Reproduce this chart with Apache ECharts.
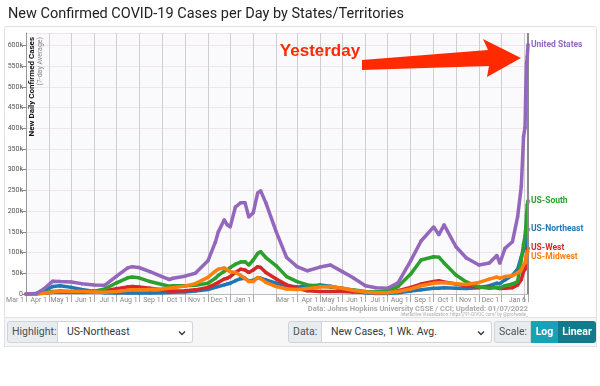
<!DOCTYPE html>
<html><head><meta charset="utf-8">
<script src="https://cdn.jsdelivr.net/npm/echarts@6/dist/echarts.min.js"></script>
<style>
html,body{margin:0;padding:0;background:#fff;width:600px;height:386px;overflow:hidden;font-family:Roboto,'Noto Sans',sans-serif;}
#card{position:absolute;left:4px;top:26px;width:593px;height:321px;border:1px solid #e2e2e2;border-radius:3px;box-sizing:border-box;z-index:0;}
#foot{position:absolute;left:4px;top:317px;width:593px;height:30px;background:#f6f6f6;border:1px solid #e2e2e2;box-sizing:border-box;z-index:0;}
#chart{position:absolute;left:0;top:0;width:600px;height:386px;z-index:1;}
.ctl{position:absolute;top:321px;height:22px;display:flex;font-size:10.5px;color:#495057;z-index:2;}
.lab{background:#e9ecef;border:1px solid #ced4da;padding:0 4px;line-height:20px;border-radius:3px 0 0 3px;box-sizing:border-box;height:22px;white-space:nowrap;}
.sel{background:#fff;border:1px solid #ced4da;border-left:none;line-height:20px;padding:0 9px;border-radius:0 3px 3px 0;position:relative;box-sizing:border-box;height:22px;color:#343a40;white-space:nowrap;}
.sel svg{position:absolute;right:6px;top:8px;}
.btn{line-height:22px;color:#fff;font-weight:bold;text-align:center;height:22px;}
</style></head>
<body>
<div id="card"></div><div id="foot"></div>
<div id="chart"></div>
<div class="ctl" style="left:7px;"><div class="lab" style="width:51px;">Highlight:</div><div class="sel" style="width:135px;">US-Northeast<svg width="8" height="6" viewBox="0 0 8 6"><path d="M1 1.5l3 3 3-3" stroke="#343a40" stroke-width="1.4" fill="none"/></svg></div></div>
<div class="ctl" style="left:288px;"><div class="lab" style="width:34px;">Data:</div><div class="sel" style="width:170px;">New Cases, 1 Wk. Avg.<svg width="8" height="6" viewBox="0 0 8 6"><path d="M1 1.5l3 3 3-3" stroke="#343a40" stroke-width="1.4" fill="none"/></svg></div></div>
<div class="ctl" style="left:494px;"><div class="lab" style="width:37px;">Scale:</div><div class="btn" style="width:27px;background:#17a2b8;">Log</div><div class="btn" style="width:38px;background:#117a8b;border-radius:0 3px 3px 0;">Linear</div></div>
<script>
// ---- data (values in thousands of cases, 7-day average) ----
const dates = ['2020-03-01','2020-03-15','2020-03-25','2020-04-06','2020-04-16','2020-05-01','2020-05-15','2020-06-01','2020-06-15','2020-07-01','2020-07-16','2020-07-22','2020-07-31','2020-08-15','2020-08-31','2020-09-10','2020-09-15','2020-10-01','2020-10-15','2020-11-01','2020-11-11','2020-11-15','2020-11-23','2020-11-27','2020-12-01','2020-12-08','2020-12-15','2020-12-21','2020-12-26','2021-01-01','2021-01-07','2021-01-11','2021-01-18','2021-02-01','2021-02-15','2021-03-01','2021-03-15','2021-04-01','2021-04-15','2021-05-01','2021-05-15','2021-06-01','2021-06-15','2021-07-01','2021-07-15','2021-08-01','2021-08-15','2021-09-01','2021-09-08','2021-09-15','2021-10-01','2021-10-15','2021-11-01','2021-11-15','2021-11-25','2021-11-29','2021-12-06','2021-12-16','2021-12-23','2021-12-28','2021-12-31','2022-01-02','2022-01-03','2022-01-04','2022-01-05','2022-01-06'];
const unitedStates = [0,1,12,31,30,29,25,22,21,43,63,66,64,54,42,35,38,43,50,80,125,150,179,167,162,210,220,220,186,196,244,249,220,150,88,66,56,65,70,54,40,20,15,14,27,80,128,162,143,167,114,87,70,75,93,74,110,126,186,260,380,402,491,556,573,602];
const usSouth = [0,0.5,3,6,7,6,6,7,12,27,39,41,39,30,23,19,20,20,21,26,38,45,55,58,64,72,77,78,70,82,98,102,88,68,42,30,22,19,17,14,10,6,5,8,18,48,82,90,89,75,46,29,17,14,16,15,20,24,30,82,120,140,160,190,215,225];
const usNortheast = [0,1,8,18,20,16,11,6,3,2.5,2.5,2.5,2.5,2.5,3,3.5,4,5,7,11,16,18,22,24,26,32,37,38,31,33,39,38,34,26,20,17,19,22,19,12,7,3,1.5,1.5,3,7,10,14,14,15,14,13,15,20,26,25,34,45,60,90,106,112,126,140,150,157];
const usWest = [0,0.5,2,4,4,4,4,5,8,13,17,18,17,14,10,7,7,8,10,16,24,28,36,38,42,52,60,58,52,58,66,64,52,36,22,14,8,6,6,6,5,4,3,4,8,16,24,30,32,29,24,20,16,16,15,13,14,15,22,35,55,60,77,90,102,111];
const usMidwest = [0,0.5,2,5,6,6,6,5,4,6,9,10,10,11,12,14,15,19,25,40,55,60,63,58,54,52,45,38,30,30,40,37,28,18,12,11,13,17,18,14,9,5,3,3,6,12,20,26,27,27,25,23,28,36,41,38,42,44,51,58,70,75,85,95,100,104];
const xGridDates = ['2020-03-01','2020-04-01','2020-05-01','2020-06-01','2020-07-01','2020-08-01','2020-09-01','2020-10-01','2020-11-01','2020-12-01','2021-01-01','2021-02-01','2021-03-01','2021-04-01','2021-05-01','2021-06-01','2021-07-01','2021-08-01','2021-09-01','2021-10-01','2021-11-01','2021-12-01','2022-01-01','2022-01-06'];
const xLabelDates = ['2020-03-01','2020-04-01','2020-05-01','2020-06-01','2020-07-01','2020-08-01','2020-09-01','2020-10-01','2020-11-01','2020-12-01','2021-01-01','2021-03-01','2021-04-01','2021-05-01','2021-06-01','2021-07-01','2021-08-01','2021-09-01','2021-10-01','2021-11-01','2021-12-01','2022-01-06'];
const monthNames = ['Jan','Feb','Mar','Apr','May','Jun','Jul','Aug','Sep','Oct','Nov','Dec'];
const seriesNames = ['US-Northeast','US-West','US-South','US-Midwest','United States'];
const seriesColors = ['#1f77b4','#d62728','#2ca02c','#ff7f0e','#9467bd'];
const seriesValues = [usNortheast, usWest, usSouth, usMidwest, unitedStates];

function ts(s){const p=s.split('-');return new Date(+p[0],+p[1]-1,+p[2]).getTime();}
const FONT='Roboto';
const chart = echarts.init(document.getElementById('chart'), null, {renderer:'canvas'});
const series = seriesNames.map((n,i)=>({
  name:n, type:'line', data: dates.map((d,j)=>[ts(d), seriesValues[i][j]]),
  color: seriesColors[i], lineStyle:{width:3.5}, symbol:'circle', symbolSize:3.5, showSymbol:true,
  z: 2+i, animation:false,
  endLabel:{show:true, formatter:'{a}', color:seriesColors[i], fontSize:8.5, fontWeight:'bold', fontFamily:FONT, distance:3},
  labelLayout:{moveOverlap:'shiftY'},
  emphasis:{disabled:true},
  markLine: i===4 ? {silent:true, symbol:'none', animation:false, label:{show:false},
     lineStyle:{color:'#8a8a8a', width:2, type:'solid'}, data:[{xAxis: ts('2022-01-06')}]} : undefined
}));
chart.setOption({
  animation:false,
  title:{text:'New Confirmed COVID-19 Cases per Day by States/Territories', left:3, top:2,
    textStyle:{fontSize:14.5, fontWeight:'normal', color:'#222', fontFamily:FONT}},
  grid:{left:26, right:72, top:33, bottom:92, show:true, backgroundColor:'#fafafd', borderWidth:0},
  xAxis:{type:'value', min:ts('2020-03-01'), max:ts('2022-01-06'),
    axisLine:{lineStyle:{color:'#bbb'}},
    axisTick:{show:true, customValues:xGridDates.map(ts), length:8, lineStyle:{color:'#aaa'}},
    axisLabel:{customValues:xLabelDates.map(ts), align:'right', margin:3, padding:[0,2,0,0], fontSize:7, color:'#888', fontFamily:FONT,
      formatter:v=>{const d=new Date(v);return monthNames[d.getMonth()]+' '+d.getDate();}},
    splitLine:{show:true, lineStyle:{color:'#cfcfcf', width:1}}},
  yAxis:{type:'value', min:0, max:630, interval:50,
    axisLine:{show:true, lineStyle:{color:'#999'}},
    axisTick:{show:true, length:4, lineStyle:{color:'#888'}},
    axisLabel:{fontSize:7, color:'#555', margin:3, fontFamily:FONT, showMaxLabel:false,
      formatter:v=> v===0 ? '0' : (v%50===0 ? v+'k' : '')},
    splitLine:{lineStyle:{color:'#efe5ed'}}},
  series: series,
  graphic:[
    {type:'text', x:32, y:37, rotation:Math.PI/2, z:10, style:{text:'New Daily Confirmed Cases', fill:'#111', font:'bold 8px Roboto', align:'right', verticalAlign:'middle'}},
    {type:'text', x:40, y:37, rotation:Math.PI/2, z:10, style:{text:'(7-day Average)', fill:'#888', font:'7px Roboto', align:'right', verticalAlign:'middle'}},
    {type:'polygon', z:20, shape:{points:[[362,60],[488,50],[483,39],[521,58],[487,77],[489,66],[362,70]]}, style:{fill:'#ff2a00'}},
    {type:'text', x:320, y:51, z:20, style:{text:'Yesterday', fill:'#ff2a00', font:'bold 17px "Liberation Sans"', align:'center', verticalAlign:'middle'}},
    {type:'text', x:528, y:309, z:10, style:{text:'Data: Johns Hopkins University CSSE / CCI; Updated: 01/07/2022', fill:'#aaa', font:'bold 7.5px Roboto', align:'right', verticalAlign:'middle'}},
    {type:'text', x:528, y:315, z:10, style:{text:'Interactive Visualization: https://91-DIVOC.com/ by @profwade_', fill:'#aaa', font:'4.5px Roboto', align:'right', verticalAlign:'middle'}}
  ]
});
</script>
</body></html>
